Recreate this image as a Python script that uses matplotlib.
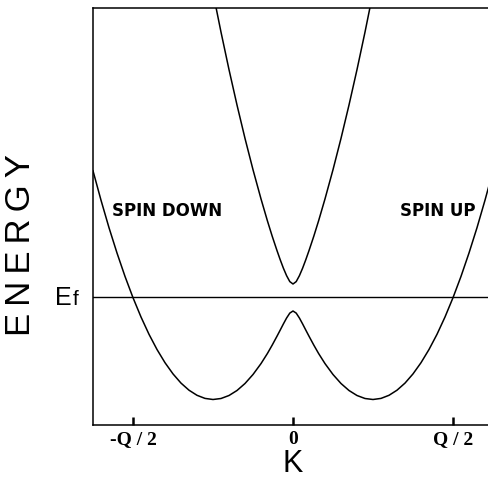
import matplotlib
matplotlib.use("Agg")
import matplotlib.pyplot as plt

# band data (K in units of Q/2, energy relative to Ef)
k_lower = [-1.25, -1.2, -1.15, -1.1, -1.05, -1.0, -0.95, -0.9, -0.85, -0.8,
           -0.75, -0.7, -0.65, -0.6, -0.55, -0.5, -0.45, -0.4, -0.35, -0.3,
           -0.25, -0.2, -0.16, -0.13, -0.1, -0.08, -0.06, -0.04, -0.02, 0.0,
           0.02, 0.04, 0.06, 0.08, 0.1, 0.13, 0.16, 0.2, 0.25, 0.3,
           0.35, 0.4, 0.45, 0.5, 0.55, 0.6, 0.65, 0.7, 0.75, 0.8,
           0.85, 0.9, 0.95, 1.0, 1.05, 1.1, 1.15, 1.2, 1.25]
e_lower = [1.262, 0.968, 0.693, 0.440, 0.206, -0.007, -0.200, -0.373, -0.525, -0.657,
           -0.769, -0.861, -0.932, -0.983, -1.014, -1.025, -1.015, -0.985, -0.935, -0.865,
           -0.775, -0.666, -0.565, -0.481, -0.392, -0.331, -0.269, -0.210, -0.161, -0.140,
           -0.161, -0.210, -0.269, -0.331, -0.392, -0.481, -0.565, -0.666, -0.775, -0.865,
           -0.935, -0.985, -1.015, -1.025, -1.014, -0.983, -0.932, -0.861, -0.769, -0.657,
           -0.525, -0.373, -0.200, -0.007, 0.206, 0.440, 0.693, 0.968, 1.262]

k_upper = [-0.5, -0.45, -0.4, -0.35, -0.3, -0.25, -0.2, -0.16, -0.13, -0.1,
           -0.08, -0.06, -0.04, -0.02, 0.0, 0.02, 0.04, 0.06, 0.08, 0.1,
           0.13, 0.16, 0.2, 0.25, 0.3, 0.35, 0.4, 0.45, 0.5]
e_upper = [3.045, 2.649, 2.274, 1.920, 1.586, 1.273, 0.981, 0.762, 0.608, 0.464,
           0.373, 0.288, 0.213, 0.154, 0.130, 0.154, 0.213, 0.288, 0.373, 0.464,
           0.608, 0.762, 0.981, 1.273, 1.586, 1.920, 2.274, 2.649, 3.045]

tick_pos = [-1, 0, 1]
tick_labels = ["-Q / 2", "0", "Q / 2"]
e_fermi = 0.0

fig = plt.figure(figsize=(4.88, 4.80), dpi=100)
ax = fig.add_axes([93 / 488, 55 / 480, 400 / 488, 417 / 480])

ax.plot(k_lower, e_lower, color="black", lw=1.1)
ax.plot(k_upper, e_upper, color="black", lw=1.1)
ax.axhline(e_fermi, color="black", lw=1.0)

ax.set_xlim(-1.25, 1.25)
ax.set_ylim(-1.28, 2.89)
ax.spines["right"].set_visible(False)
for s in ["left", "top", "bottom"]:
    ax.spines[s].set_linewidth(1.1)

ax.set_yticks([])
ax.set_xticks(tick_pos)
ax.set_xticklabels(tick_labels, fontfamily="Liberation Serif", fontweight="bold", fontsize=14)
ax.tick_params(axis="x", direction="in", length=6, width=1.8, pad=4)
ax.set_xlabel("K", fontfamily="Liberation Sans", fontsize=22, labelpad=1)

fig.text(21 / 488, 1 - 245 / 480, "E\u2009N\u2009E\u2009R\u2009G\u2009Y", rotation=90,
         ha="center", va="center", fontfamily="Liberation Sans", fontsize=25)
fig.text(72 / 488, 1 - 305 / 480, "E", ha="right", va="baseline",
         fontfamily="Liberation Sans", fontsize=18)
fig.text(73 / 488, 1 - 305 / 480, "f", ha="left", va="baseline",
         fontfamily="Liberation Sans", fontsize=15)

ax.text(-1.13, 0.86, "SPIN DOWN", ha="left", va="center",
        fontfamily="DejaVu Sans", fontweight="bold", fontsize=12)
ax.text(0.67, 0.86, "SPIN UP", ha="left", va="center",
        fontfamily="DejaVu Sans", fontweight="bold", fontsize=12)

fig.savefig("out.png", dpi=100)
